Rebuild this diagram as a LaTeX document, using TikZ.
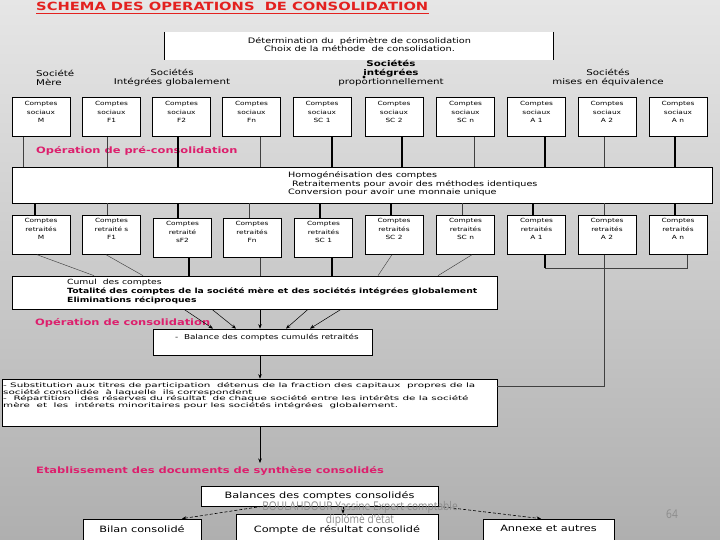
\documentclass[tikz,border=0pt]{standalone}
\usepackage{fontspec}
\setmainfont{DejaVu Sans}
\newfontfamily\cf[FakeStretch=1.3]{DejaVu Sans}
\newfontfamily\cfw[FakeStretch=1.7]{DejaVu Sans}
\newfontfamily\footf[FakeStretch=0.85]{Open Sans}
\usetikzlibrary{arrows.meta}
\definecolor{titlered}{HTML}{E3211F}
\definecolor{pinkhd}{HTML}{DD1F6D}
\definecolor{footgray}{HTML}{8C8C8C}
\definecolor{bgtop}{HTML}{E6E6E6}
\definecolor{bgbot}{HTML}{AFAFAF}
\newcommand\fs[2]{\fontsize{#1}{#2}\selectfont}
\tikzset{
  acctbox/.style={draw, fill=white, line width=0.7pt, minimum width=58pt, minimum height=39pt, inner sep=0pt, anchor=north},
  accttxt/.style={inner sep=0pt, align=center, font=\cf\fs{5.7}{8.5}},
  txt/.style={inner sep=0pt, font=\cf\fs{7.4}{8.5}},
  thinln/.style={line width=0.45pt, draw=black!75},
  thickln/.style={line width=1.1pt, draw=black},
  arrln/.style={line width=0.5pt, -{Stealth[length=4.5pt,width=3.5pt]}},
  dasharr/.style={line width=0.6pt, dash pattern=on 3pt off 2pt, -{Stealth[length=4.5pt,width=3.5pt]}},
  pinkhead/.style={inner sep=0pt, anchor=west, text=pinkhd, font=\cf\bfseries\fs{8.8}{10}},
  whitebox/.style={draw, fill=white, line width=0.7pt, inner sep=0pt},
}
\newcommand\acct[5]{%
  \node[acctbox] (#1) at (#2,#3) {};
  \node[accttxt] (#1t) at ([yshift=#5]#1.center) {#4};
}
\begin{document}
\begin{tikzpicture}[x=1pt,y=-1pt]
\useasboundingbox (0,0) rectangle (720,540);
\clip (0,0) rectangle (720,540);
\shade[top color=bgtop, bottom color=bgbot] (0,0) rectangle (720,540);

% title
\node[inner sep=0pt, anchor=base west, text=titlered, font=\cf\bfseries\fs{11.3}{13}] (title) at (36,11) {SCHEMA DES OPERATIONS\ \ DE CONSOLIDATION};
\draw[titlered, line width=0.8pt] ([yshift=-1.8pt]title.south west) -- ([yshift=-1.8pt]title.south east);

% top box
\node[fill=white, minimum width=388pt, minimum height=28pt, inner sep=0pt] (topbox) at (359,46) {};
\draw[line width=1pt] (topbox.north west) -- (topbox.south west);
\draw[line width=1pt] (topbox.north east) -- (topbox.south east);
\node[txt, align=center, font=\cf\fs{7.5}{8}] (toptxt) at (359.5,44.5) {Détermination du\ \ périmètre de consolidation\\Choix de la méthode\ \ de consolidation.};

% headers
\node[txt, font=\cf\fs{7.9}{9}, align=left, anchor=west] (hmere) at (36,77.5) {Société\\Mère};
\node[txt, font=\cf\fs{7.9}{9}, align=center] (hglob) at (172,77.5) {Sociétés\\Intégrées globalement};
\node[txt, font=\cf\fs{7.9}{9.3}, align=center] (hprop) at (391,73) {\textbf{Sociétés}\\\textbf{intégrées}\\proportionnellement};
\fill (364,77) circle (1.6);
\node[txt, font=\cf\fs{7.9}{9}, align=center] (hequiv) at (608,77.5) {Sociétés\\mises en équivalence};

% row 1
\acct{r1m}{41}{97}{Comptes\\sociaux\\M}{4.8pt}
\acct{r1fa}{111.5}{97}{Comptes\\sociaux\\F1}{4.8pt}
\acct{r1fb}{181.5}{97}{Comptes\\sociaux\\F2}{4.8pt}
\acct{r1fn}{251.5}{97}{Comptes\\sociaux\\Fn}{4.8pt}
\acct{r1sa}{322}{97}{Comptes\\sociaux\\SC 1}{4.8pt}
\acct{r1sb}{394}{97}{Comptes\\sociaux\\SC 2}{4.8pt}
\acct{r1sn}{465.5}{97}{Comptes\\sociaux\\SC n}{4.8pt}
\acct{r1aa}{536.5}{97}{Comptes\\sociaux\\A 1}{4.8pt}
\acct{r1ab}{607}{97}{Comptes\\sociaux\\A 2}{4.8pt}
\acct{r1an}{678}{97}{Comptes\\sociaux\\A n}{4.8pt}

\node[pinkhead] (pre) at (36,151) {Opération de pré-consolidation};

% homogenisation box
\node[whitebox, minimum width=700pt, minimum height=36pt] (hom) at (362,185) {};
\node[txt, align=left, anchor=west] (homt) at (288,184) {Homogénéisation des comptes\\\hspace*{4pt}Retraitements pour avoir des méthodes identiques\\Conversion pour avoir une monnaie unique};

% row1 -> hom
\draw[thinln] (r1m.south -| 23,0) -- (hom.north -| 23,0);
\draw[thinln] (r1fa.south -| 107,0) -- (hom.north -| 107,0);
\draw[thickln] (r1fb.south -| 178,0) -- (hom.north -| 178,0);
\draw[thinln] (r1fn.south -| 260,0) -- (hom.north -| 260,0);
\draw[thickln] (r1sa.south -| 332,0) -- (hom.north -| 332,0);
\draw[thickln] (r1sb.south -| 402,0) -- (hom.north -| 402,0);
\draw[thinln] (r1sn.south -| 474,0) -- (hom.north -| 474,0);
\draw[thickln] (r1aa.south -| 545,0) -- (hom.north -| 545,0);
\draw[thinln] (r1ab.south -| 604,0) -- (hom.north -| 604,0);
\draw[thickln] (r1an.south -| 675,0) -- (hom.north -| 675,0);

% row 2
\acct{r2m}{41}{215}{Comptes\\retraités\\M}{5.5pt}
\acct{r2fa}{111.5}{215}{Comptes\\retraité s\\F1}{5.5pt}
\acct{r2fb}{182.5}{218}{Comptes\\retraité\\sF2}{5.5pt}
\acct{r2fn}{252}{218}{Comptes\\retraités\\Fn}{5.5pt}
\acct{r2sa}{323.5}{218}{Comptes\\retraités\\SC 1}{5.5pt}
\acct{r2sb}{394}{215}{Comptes\\retraités\\SC 2}{5.5pt}
\acct{r2sn}{465.5}{215}{Comptes\\retraités\\SC n}{5.5pt}
\acct{r2aa}{536.5}{215}{Comptes\\retraités\\A 1}{5.5pt}
\acct{r2ab}{607}{215}{Comptes\\retraités\\A 2}{5.5pt}
\acct{r2an}{678}{215}{Comptes\\retraités\\A n}{5.5pt}

% hom -> row2
\draw[thickln] (hom.south -| 35,0) -- (r2m.north -| 35,0);
\draw[thinln] (hom.south -| 107,0) -- (r2fa.north -| 107,0);
\draw[thickln] (hom.south -| 178,0) -- (r2fb.north -| 178,0);
\draw[thinln] (hom.south -| 249,0) -- (r2fn.north -| 249,0);
\draw[thickln] (hom.south -| 320,0) -- (r2sa.north -| 320,0);
\draw[thickln] (hom.south -| 391,0) -- (r2sb.north -| 391,0);
\draw[thinln] (hom.south -| 462,0) -- (r2sn.north -| 462,0);
\draw[thickln] (hom.south -| 533,0) -- (r2aa.north -| 533,0);
\draw[thinln] (hom.south -| 604,0) -- (r2ab.north -| 604,0);
\draw[thickln] (hom.south -| 675,0) -- (r2an.north -| 675,0);

% cumul box
\node[whitebox, minimum width=485pt, minimum height=33pt] (cum) at (254.5,292.5) {};
\node[txt, align=left, anchor=west, font=\cf\fs{7.1}{8.8}] (cumt) at (67,291.5) {Cumul\ \ des comptes\\\textbf{Totalité des comptes de la société mère et des sociétés intégrées globalement}\\\textbf{Eliminations réciproques}};

% row2 -> cumul
\draw[thinln] (37,0 |- r2m.south) -- (94,0 |- cum.north);
\draw[thinln] (106,0 |- r2fa.south) -- (143,0 |- cum.north);
\draw[thickln] (r2fb.south -| 189,0) -- (cum.north -| 189,0);
\draw[thinln] (r2fn.south -| 260,0) -- (cum.north -| 260,0);
\draw[thickln] (r2sa.south -| 332,0) -- (cum.north -| 332,0);
\draw[thinln] (392,0 |- r2sb.south) -- (378,0 |- cum.north);
\draw[thinln] (472,0 |- r2sn.south) -- (438,0 |- cum.north);
\draw[thickln] (r2aa.south -| 545,0) -- (545,268);
\draw[thinln] (545,268) -- (687,268) -- (r2an.south -| 687,0);

% consolidation
\node[pinkhead] (cons) at (35,323) {Opération de consolidation};
\node[whitebox, minimum width=219pt, minimum height=26pt] (bal) at (262.5,342) {};
\node[txt, anchor=west, font=\cf\fs{6.8}{8}] (balt) at (175,337.5) {-\ \ Balance des comptes cumulés retraités};

\draw[arrln] (184,0 |- cum.south) -- (213,0 |- bal.north);
\draw[arrln] (212,0 |- cum.south) -- (236,0 |- bal.north);
\draw[arrln] (cum.south -| 260,0) -- (bal.north -| 260,0);
\draw[arrln] (308,0 |- cum.south) -- (286,0 |- bal.north);
\draw[arrln] (341,0 |- cum.south) -- (310,0 |- bal.north);

% substitution box
\node[whitebox, minimum width=495pt, minimum height=47pt] (sub) at (249.5,402.5) {};
\node[txt, align=left, anchor=west, font=\cfw\fs{6.1}{6.6}] (subt) at (3,395.5) {- Substitution aux titres de participation\ \ détenus de la fraction des capitaux\ \ propres de la\\société consolidée\ \ à laquelle\ \ ils correspondent\\-\ \ Répartition\ \ \ des réserves du résultat\ \ de chaque société entre les intérêts de la société\\mère\ \ et\ \ les\ \ intérets minoritaires pour les sociétés intégrées\ \ globalement.};
\draw[arrln] (bal.south -| 260,0) -- (sub.north -| 260,0);
\draw[thinln] (r2ab.south -| 604,0) -- (604,386) -- (sub.east |- 0,386);

% etablissement
\coordinate (etab-in) at (260,463);
\draw[arrln] (sub.south -| 260,0) -- (etab-in);
\node[pinkhead] (etab) at (36,471) {Etablissement des documents de synthèse consolidés};

\node[whitebox, minimum width=237pt, minimum height=20pt, font=\cf\fs{8.7}{10}] (balc) at (319.5,496) {Balances des comptes consolidés};
\node[whitebox, minimum width=118pt, minimum height=29pt] (bilan) at (142,533.5) {};
\node[txt, font=\cf\fs{8.7}{10}] (bilant) at (142,529) {Bilan consolidé};
\node[whitebox, minimum width=202pt, minimum height=34pt] (cr) at (337,531) {};
\node[txt, font=\cf\fs{8.7}{10}] (crt) at (337,529.5) {Compte de résultat consolidé};
\node[whitebox, minimum width=131pt, minimum height=29pt] (ann) at (548.5,533.5) {};
\node[txt, font=\cf\fs{8.7}{10}] (annt) at (548.5,528) {Annexe et autres};

\draw[dasharr] (262,0 |- balc.south) -- (182,0 |- bilan.north);
\draw[arrln] (balc.south -| 343,0) -- (cr.north -| 343,0);
\draw[dasharr] (balc.south east) -- (541,0 |- ann.north);

% footer
\node[inner sep=0pt, font=\footf\fs{12}{11}, text=footgray, align=center] (foot) at (360,514) {BOULAHDOUR Yassine Expert-comptable\\diplômé d'état};
\node[inner sep=0pt, font=\footf\fs{12}{12}, text=footgray] (pnum) at (672,514) {64};
\end{tikzpicture}
\end{document}
